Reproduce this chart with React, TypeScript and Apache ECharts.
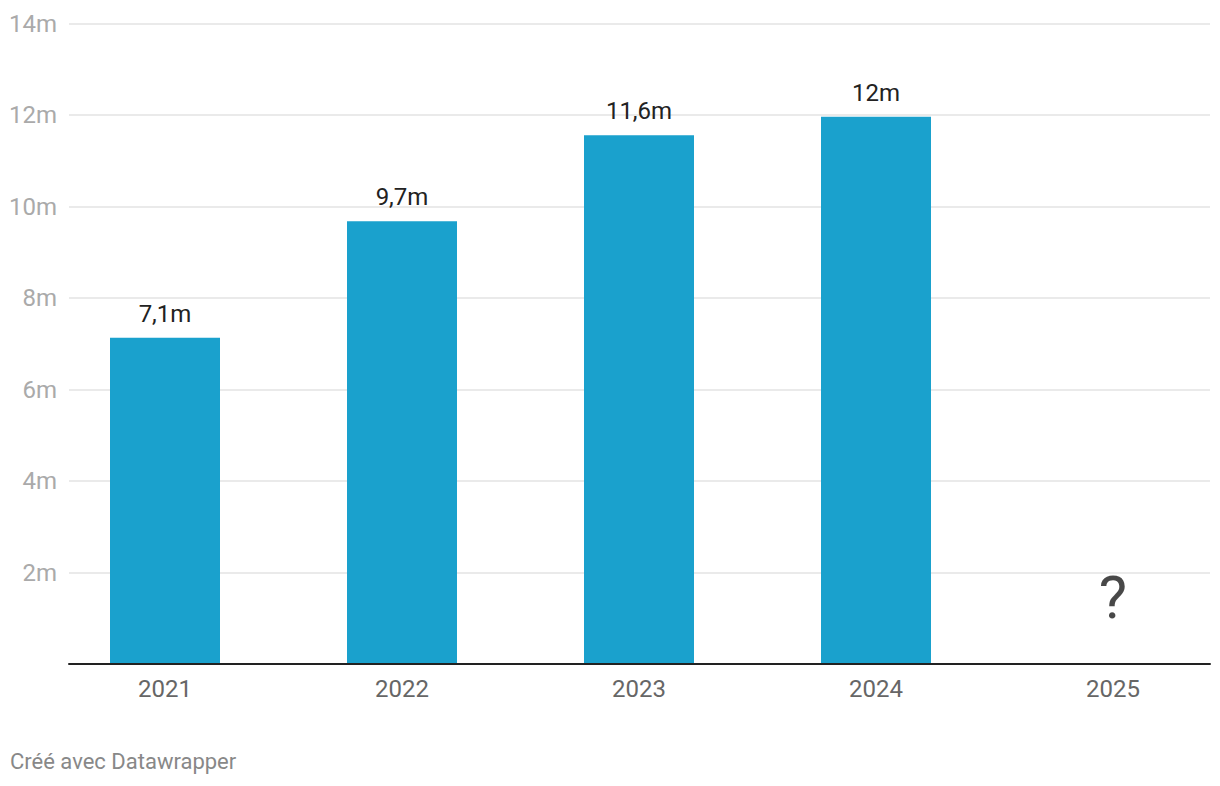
import React, { useEffect, useRef } from "react";
import * as echarts from "echarts";

const years = ["2021", "2022", "2023", "2024", "2025"];
const values: (number | null)[] = [7.13, 9.68, 11.56, 11.96, null];
const unknownMarker = [{ year: "2025", value: 1.45, text: "?" }];
const yTicks = { min: 0, max: 14, interval: 2 };
const footer = "Créé avec Datawrapper";

function fmt(v: number): string {
  const r = Math.round(v * 10) / 10;
  const s = Number.isInteger(r) ? String(r) : r.toFixed(1);
  return s.replace(".", ",") + "m";
}

export default function App() {
  const ref = useRef<HTMLDivElement>(null);
  useEffect(() => {
    if (!ref.current) return;
    const chart = echarts.init(ref.current, null, { renderer: "svg" });
    const font = "Roboto";
    const top = 23.5;
    const height = 640.5;
    chart.setOption({
      animation: false,
      backgroundColor: "#ffffff",
      textStyle: { fontFamily: font },
      grid: [
        { left: 69, width: 1141, top, height, containLabel: false },
        { left: 165, width: 948, top, height, containLabel: false },
      ],
      xAxis: [
        {
          gridIndex: 0,
          type: "category",
          data: [""],
          axisLine: { show: true, lineStyle: { color: "#222222", width: 2 } },
          axisTick: { show: false },
          axisLabel: { show: false },
          z: 10,
        },
        {
          gridIndex: 1,
          type: "category",
          boundaryGap: false,
          data: years,
          axisLine: { show: false },
          axisTick: { show: false },
          splitLine: { show: false },
          axisLabel: {
            color: "#666666",
            fontSize: 24,
            fontFamily: font,
            margin: 13,
          },
        },
      ],
      yAxis: [
        {
          gridIndex: 0,
          type: "value",
          min: yTicks.min,
          max: yTicks.max,
          interval: yTicks.interval,
          axisLine: { show: false },
          axisTick: { show: false },
          splitLine: { show: true, lineStyle: { color: "#e3e3e3", width: 1.5 } },
          axisLabel: {
            color: "#aaaaaa",
            fontSize: 24,
            fontFamily: font,
            margin: 12,
            formatter: (v: number) => (v === 0 ? "" : v + "m"),
          },
        },
        {
          gridIndex: 1,
          type: "value",
          min: yTicks.min,
          max: yTicks.max,
          interval: yTicks.interval,
          show: false,
        },
      ],
      series: [
        {
          type: "bar",
          xAxisIndex: 1,
          yAxisIndex: 1,
          data: values,
          barWidth: 110,
          clip: false,
          itemStyle: { color: "#1aa1cd" },
          label: {
            show: true,
            position: "top",
            distance: 12,
            color: "#222222",
            fontSize: 24,
            fontFamily: font,
            formatter: (p: any) => (p.value == null ? "" : fmt(p.value)),
          },
          z: 5,
        },
        {
          type: "scatter",
          xAxisIndex: 1,
          yAxisIndex: 1,
          symbolSize: 0,
          clip: false,
          data: unknownMarker.map((m) => [m.year, m.value]),
          label: {
            show: true,
            position: "inside",
            color: "#1a1a1a",
            fontSize: 60,
            fontWeight: "normal",
            fontFamily: font,
            formatter: (p: any) => unknownMarker[p.dataIndex].text,
          },
        },
      ],
      graphic: [
        {
          type: "text",
          left: 10,
          top: 750,
          style: {
            text: footer,
            fill: "#888888",
            fontSize: 22,
            fontFamily: font,
          },
        },
      ],
    });
    return () => chart.dispose();
  }, []);
  return (
    <div
      ref={ref}
      style={{ position: "absolute", left: 0, top: 0, width: 1220, height: 786 }}
    />
  );
}
